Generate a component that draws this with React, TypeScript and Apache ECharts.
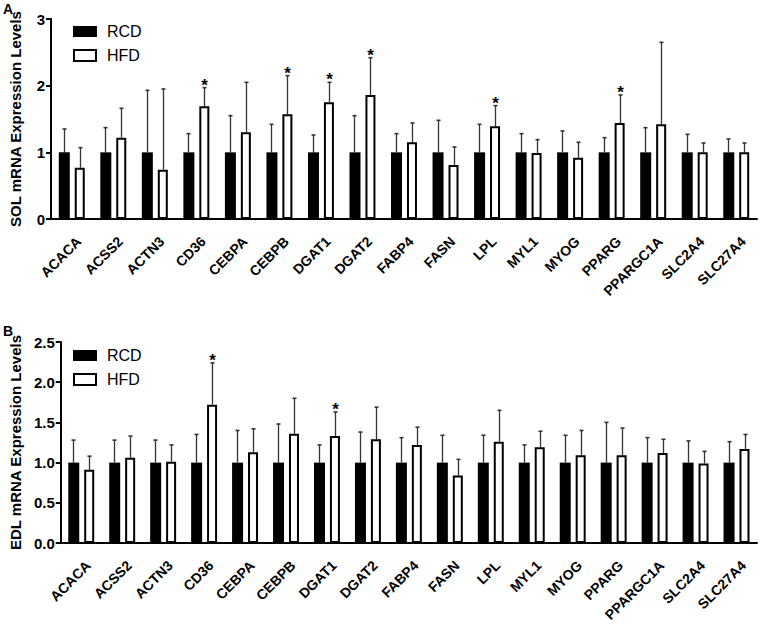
import React, { useEffect, useRef } from "react";
import * as echarts from "echarts";

const genes = ["ACACA","ACSS2","ACTN3","CD36","CEBPA","CEBPB","DGAT1","DGAT2","FABP4","FASN","LPL","MYL1","MYOG","PPARG","PPARGC1A","SLC2A4","SLC27A4"];

// Panel A (SOL)
const solRcd = [1,1,1,1,1,1,1,1,1,1,1,1,1,1,1,1,1];
const solRcdErrTop = [1.35,1.37,1.93,1.28,1.55,1.42,1.26,1.55,1.28,1.48,1.42,1.28,1.32,1.22,1.37,1.27,1.2];
const solHfd = [0.77,1.22,0.74,1.69,1.3,1.57,1.75,1.86,1.15,0.81,1.39,0.99,0.92,1.44,1.42,1.0,1.0];
const solHfdErrTop = [1.07,1.66,1.95,1.97,2.05,2.15,2.05,2.42,1.44,1.08,1.7,1.19,1.15,1.86,2.65,1.14,1.14];
const solSig = [0,0,0,1,0,1,1,1,0,0,1,0,0,1,0,0,0];

// Panel B (EDL)
const edlRcd = [1,1,1,1,1,1,1,1,1,1,1,1,1,1,1,1,1];
const edlRcdErrTop = [1.28,1.28,1.28,1.35,1.4,1.48,1.22,1.38,1.31,1.34,1.34,1.22,1.34,1.5,1.31,1.27,1.26];
const edlHfd = [0.91,1.06,1.01,1.72,1.13,1.36,1.33,1.29,1.22,0.84,1.26,1.19,1.09,1.09,1.12,0.99,1.17];
const edlHfdErrTop = [1.08,1.33,1.22,2.24,1.42,1.8,1.63,1.69,1.44,1.04,1.65,1.39,1.4,1.43,1.29,1.14,1.35];
const edlSig = [0,0,0,1,0,0,1,0,0,0,0,0,0,0,0,0,0];

const FONT = 'Arial, "Liberation Sans", Helvetica, sans-serif';
const LABEL_FONT = "bold 14px " + FONT;
const BAR_W = 11;
const OFFSET = 8;

let measureCtx: CanvasRenderingContext2D | null = null;
function textWidth(t: string) {
  if (!measureCtx) {
    measureCtx = document.createElement("canvas").getContext("2d");
    if (measureCtx) measureCtx.font = LABEL_FONT;
  }
  return measureCtx ? measureCtx.measureText(t).width : t.length * 9;
}

function errData(mean: number[], top: number[], off: number, sig: number[] | null) {
  return mean.map((m, i) => [i, m, top[i], off, sig ? sig[i] : 0]);
}

function renderErr(params: any, api: any) {
  const ci = api.value(0);
  const m = api.value(1);
  const t = api.value(2);
  const off = api.value(3);
  const s = api.value(4);
  const p0 = api.coord([ci, m]);
  const p1 = api.coord([ci, t]);
  const x = Math.round(p0[0] + off) + 0.5;
  const children: any[] = [
    { type: "line", shape: { x1: x, y1: p0[1], x2: x, y2: p1[1] }, style: { stroke: "#333", lineWidth: 1.3 } },
    { type: "line", shape: { x1: x - 2, y1: p1[1], x2: x + 2, y2: p1[1] }, style: { stroke: "#333", lineWidth: 1.6 } },
  ];
  if (s) {
    children.push({
      type: "text",
      style: { text: "*", x: x, y: p1[1] + 6, align: "center", verticalAlign: "bottom", font: "bold 17px " + FONT, fill: "#000" },
    });
  }
  return { type: "group", children };
}

function renderCatLabel(params: any, api: any) {
  const p = api.coord([api.value(0), 0]);
  const g = genes[params.dataIndex];
  const w = textWidth(g);
  const c = Math.SQRT1_2;
  const ax = p[0] + 7;
  const ay = p[1] + 20;
  const sx = ax - w * c;
  const sy = ay + w * c;
  return {
    type: "group",
    x: sx - 7 * c,
    y: sy - 7 * c,
    rotation: Math.PI / 4,
    children: [{ type: "text", style: { text: g, font: LABEL_FONT, fill: "#000" } }],
  };
}

function axisPair(gi: number, max: number, interval: number, fmt: (v: number) => string) {
  const x = {
    type: "category",
    gridIndex: gi,
    data: genes,
    boundaryGap: true,
    axisLine: { lineStyle: { color: "#000", width: 2 } },
    axisTick: { alignWithLabel: true, length: 5, lineStyle: { color: "#000", width: 2 } },
    axisLabel: { show: false },
  };
  const y = {
    type: "value",
    gridIndex: gi,
    min: 0,
    max,
    interval,
    splitLine: { show: false },
    axisLine: { show: true, lineStyle: { color: "#000", width: 2 } },
    axisTick: { show: true, length: 5, lineStyle: { color: "#000", width: 2 } },
    axisLabel: { margin: 6, color: "#000", fontWeight: "bold", fontSize: 15, fontFamily: FONT, formatter: fmt },
    name: gi === 0 ? "SOL mRNA Expression Levels" : "EDL mRNA Expression Levels",
    nameLocation: "middle",
    nameGap: 28,
    nameTextStyle: { color: "#000", fontWeight: "bold", fontSize: 15, fontFamily: FONT },
  };
  return { x, y };
}

export default function App() {
  const ref = useRef<HTMLDivElement>(null);
  useEffect(() => {
    const el = ref.current;
    if (!el) return;
    const chart = echarts.init(el, null, { renderer: "svg" });
    const a0 = axisPair(0, 3, 1, (v) => String(v));
    const a1 = axisPair(1, 2.5, 0.5, (v) => v.toFixed(1));
    const rcdStyle = { color: "#000" };
    const hfdStyle = { color: "#fff", borderColor: "#000", borderWidth: 2 };
    const legendItems = (top: number) => [
      { type: "rect", shape: { x: 73, y: top, width: 24, height: 11 }, style: { fill: "#000" } },
      { type: "text", style: { text: "RCD", x: 107, y: top + 5.5, verticalAlign: "middle", font: "16px " + FONT, fill: "#000" } },
      { type: "rect", shape: { x: 74, y: top + 24, width: 22, height: 11 }, style: { fill: "#fff", stroke: "#000", lineWidth: 2 } },
      { type: "text", style: { text: "HFD", x: 107, y: top + 29.5, verticalAlign: "middle", font: "16px " + FONT, fill: "#000" } },
    ];
    const catData = genes.map((g, i) => [i, 0]);
    chart.setOption({
      animation: false,
      grid: [
        { left: 50, top: 19, width: 707, height: 200 },
        { left: 50, top: 342, width: 707, height: 201 },
      ],
      xAxis: [a0.x, a1.x],
      yAxis: [a0.y, a1.y],
      graphic: [
        { type: "text", style: { text: "A", x: 3, y: 2, font: "bold 14px " + FONT, fill: "#000" } },
        { type: "text", style: { text: "B", x: 3, y: 324, font: "bold 14px " + FONT, fill: "#000" } },
        ...legendItems(26),
        ...legendItems(350),
      ],
      series: [
        { name: "RCD", type: "bar", xAxisIndex: 0, yAxisIndex: 0, data: solRcd, barWidth: BAR_W, barGap: "45%", itemStyle: rcdStyle },
        { name: "HFD", type: "bar", xAxisIndex: 0, yAxisIndex: 0, data: solHfd, barWidth: BAR_W - 1, barGap: "45%", itemStyle: hfdStyle },
        { type: "custom", xAxisIndex: 0, yAxisIndex: 0, data: errData(solRcd, solRcdErrTop, -OFFSET, null), renderItem: renderErr, z: 1 },
        { type: "custom", xAxisIndex: 0, yAxisIndex: 0, data: errData(solHfd, solHfdErrTop, OFFSET, solSig), renderItem: renderErr, z: 1 },
        { type: "custom", xAxisIndex: 0, yAxisIndex: 0, data: catData, renderItem: renderCatLabel, clip: false, silent: true },
        { name: "RCD", type: "bar", xAxisIndex: 1, yAxisIndex: 1, data: edlRcd, barWidth: BAR_W, barGap: "45%", itemStyle: rcdStyle },
        { name: "HFD", type: "bar", xAxisIndex: 1, yAxisIndex: 1, data: edlHfd, barWidth: BAR_W - 1, barGap: "45%", itemStyle: hfdStyle },
        { type: "custom", xAxisIndex: 1, yAxisIndex: 1, data: errData(edlRcd, edlRcdErrTop, -OFFSET, null), renderItem: renderErr, z: 1 },
        { type: "custom", xAxisIndex: 1, yAxisIndex: 1, data: errData(edlHfd, edlHfdErrTop, OFFSET, edlSig), renderItem: renderErr, z: 1 },
        { type: "custom", xAxisIndex: 1, yAxisIndex: 1, data: catData, renderItem: renderCatLabel, clip: false, silent: true },
      ],
    });
    return () => chart.dispose();
  }, []);
  return <div ref={ref} style={{ width: 764, height: 626, position: "absolute", left: 0, top: 0 }} />;
}
